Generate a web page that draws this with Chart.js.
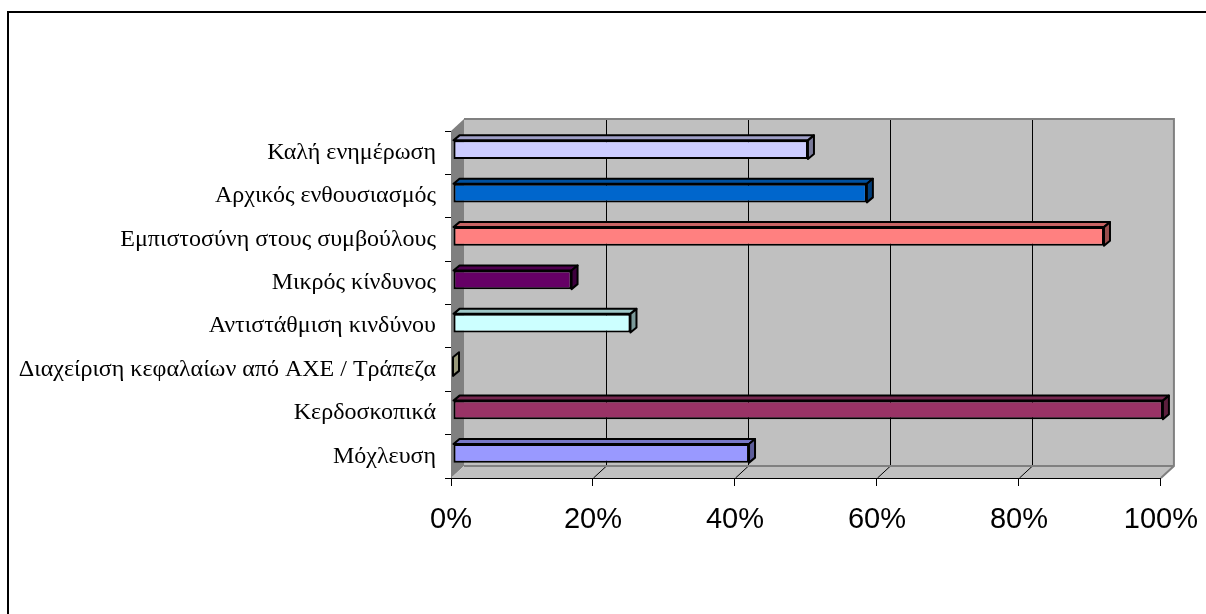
<!DOCTYPE html>
<html>
<head>
<meta charset="utf-8">
<script src="https://cdn.jsdelivr.net/npm/chart.js@4.4.1/dist/chart.umd.min.js"></script>
<style>
  html, body { margin: 0; padding: 0; background: #fff; }
  #wrap { width: 1206px; height: 614px; position: relative; }
</style>
</head>
<body>
<div id="wrap"><canvas id="c" width="1206" height="614"></canvas></div>
<script>
// Categories listed from the bottom bar upwards
const categories = [
  'Μόχλευση',
  'Κερδοσκοπικά',
  'Διαχείριση κεφαλαίων από ΑΧΕ / Τράπεζα',
  'Αντιστάθμιση κινδύνου',
  'Μικρός κίνδυνος',
  'Εμπιστοσύνη στους συμβούλους',
  'Αρχικός ενθουσιασμός',
  'Καλή ενημέρωση'
];
// Share of answers, in percent
const shares = [41.7, 100, 0, 25, 16.7, 91.7, 58.3, 50];
const barColors = ['#9999FF', '#993366', '#FFFFCC', '#CCFFFF', '#660066', '#FF8080', '#0066CC', '#CCCCFF'];
const percentTicks = [0, 20, 40, 60, 80, 100];

// 3D depth of the plot box and of the bars
const WALL_DX = 13, WALL_DY = -12;
const BAR_DX = 6, BAR_DY = -5;
const BAR_SHIFT_X = 2, BAR_SHIFT_Y = -3;

function shade(hex, k) {
  const n = parseInt(hex.slice(1), 16);
  const r = Math.round(((n >> 16) & 255) * k);
  const g = Math.round(((n >> 8) & 255) * k);
  const b = Math.round((n & 255) * k);
  return `rgb(${r},${g},${b})`;
}

function poly(ctx, pts, fill, stroke, lw) {
  ctx.beginPath();
  ctx.moveTo(pts[0][0], pts[0][1]);
  for (let i = 1; i < pts.length; i++) ctx.lineTo(pts[i][0], pts[i][1]);
  ctx.closePath();
  if (fill) { ctx.fillStyle = fill; ctx.fill(); }
  if (stroke) { ctx.strokeStyle = stroke; ctx.lineWidth = lw || 1; ctx.stroke(); }
}

const framePlugin = {
  id: 'frame',
  beforeDraw(chart) {
    const ctx = chart.ctx;
    ctx.save();
    ctx.fillStyle = '#fff';
    ctx.fillRect(0, 0, chart.width, chart.height);
    ctx.strokeStyle = '#000';
    ctx.lineWidth = 2;
    ctx.strokeRect(8, 12, 1210, 700);
    ctx.restore();
  }
};

const wallsPlugin = {
  id: 'walls',
  beforeDatasetsDraw(chart) {
    const ctx = chart.ctx;
    const { left, right, top, bottom } = chart.chartArea;
    const xs = chart.scales.x;
    ctx.save();
    // side wall
    poly(ctx, [[left, top], [left + WALL_DX, top + WALL_DY], [left + WALL_DX, bottom + WALL_DY], [left, bottom]], '#808080');
    // back wall
    poly(ctx, [[left + WALL_DX, top + WALL_DY], [right + WALL_DX, top + WALL_DY], [right + WALL_DX, bottom + WALL_DY], [left + WALL_DX, bottom + WALL_DY]], '#C0C0C0');
    // floor
    poly(ctx, [[left, bottom], [left + WALL_DX, bottom + WALL_DY], [right + WALL_DX, bottom + WALL_DY], [right, bottom]], '#C0C0C0');
    // grid lines on back wall and floor
    ctx.strokeStyle = '#000';
    ctx.lineWidth = 1;
    percentTicks.forEach(v => {
      if (v === 0 || v === 100) return;
      const px = Math.round(xs.getPixelForValue(v)) + 0.5;
      ctx.beginPath();
      ctx.moveTo(px + WALL_DX, top + WALL_DY);
      ctx.lineTo(px + WALL_DX, bottom + WALL_DY);
      ctx.lineTo(px, bottom);
      ctx.stroke();
    });
    // wall edges
    ctx.strokeStyle = '#808080';
    ctx.lineWidth = 2;
    ctx.beginPath();
    ctx.moveTo(left + WALL_DX, top + WALL_DY);
    ctx.lineTo(right + WALL_DX, top + WALL_DY);
    ctx.lineTo(right + WALL_DX, bottom + WALL_DY);
    ctx.lineTo(right, bottom);
    ctx.moveTo(right + WALL_DX, bottom + WALL_DY);
    ctx.lineTo(left + WALL_DX, bottom + WALL_DY);
    ctx.stroke();
    ctx.restore();
  }
};

const barDepthPlugin = {
  id: 'barDepth',
  beforeDatasetDraw(chart) {
    chart.ctx.save();
    chart.ctx.translate(BAR_SHIFT_X, BAR_SHIFT_Y);
  },
  afterDatasetDraw(chart, args) {
    const ctx = chart.ctx;
    const meta = args.meta;
    const colors = meta._dataset.backgroundColor;
    ctx.lineJoin = 'round';
    meta.data.forEach((bar, i) => {
      const { x, y, base, height } = bar.getProps(['x', 'y', 'base', 'height'], true);
      const t = y - height / 2, b = y + height / 2;
      const x1 = Math.max(x, base);
      const c = colors[i];
      // top face
      if (x1 - base > 0.5) {
        poly(ctx, [[base, t], [base + BAR_DX, t + BAR_DY], [x1 + BAR_DX, t + BAR_DY], [x1, t]], shade(c, 0.78), '#000', 2);
      }
      // end face
      poly(ctx, [[x1, t], [x1 + BAR_DX, t + BAR_DY], [x1 + BAR_DX, b + BAR_DY], [x1, b]], shade(c, 0.6), '#000', 2);
    });
    ctx.restore();
  }
};

new Chart(document.getElementById('c'), {
  type: 'bar',
  data: {
    labels: categories,
    datasets: [{
      data: shares,
      backgroundColor: barColors,
      borderColor: '#000',
      borderWidth: 2,
      borderSkipped: false,
      barPercentage: 0.43,
      categoryPercentage: 1
    }]
  },
  options: {
    indexAxis: 'y',
    responsive: false,
    animation: false,
    events: [],
    layout: { padding: { top: 131, right: 45, bottom: 76, left: 0 } },
    plugins: { legend: { display: false }, tooltip: { enabled: false } },
    scales: {
      x: {
        type: 'linear',
        min: 0,
        max: 100,
        afterBuildTicks: s => { s.ticks = percentTicks.map(v => ({ value: v })); },
        afterFit: s => { s.height = 60; },
        ticks: {
          callback: v => v + '%',
          color: '#000',
          font: { family: '"Liberation Sans", Arial, sans-serif', size: 29, lineHeight: 1.8 },
          padding: 8,
          maxRotation: 0,
          autoSkip: false
        },
        grid: { drawOnChartArea: false, drawTicks: true, tickLength: 8, color: '#000' },
        border: { display: true, color: '#000', width: 1 }
      },
      y: {
        type: 'category',
        reverse: true,
        offset: true,
        afterFit: s => { s.width = 451; },
        ticks: {
          color: '#000',
          font: { family: '"Liberation Serif", "Times New Roman", serif', size: 24 },
          padding: 9,
          autoSkip: false
        },
        grid: { offset: true, drawOnChartArea: false, drawTicks: true, tickLength: 6, color: '#000' },
        border: { display: true, color: '#000', width: 1 }
      }
    }
  },
  plugins: [framePlugin, wallsPlugin, barDepthPlugin]
});
</script>
</body>
</html>
